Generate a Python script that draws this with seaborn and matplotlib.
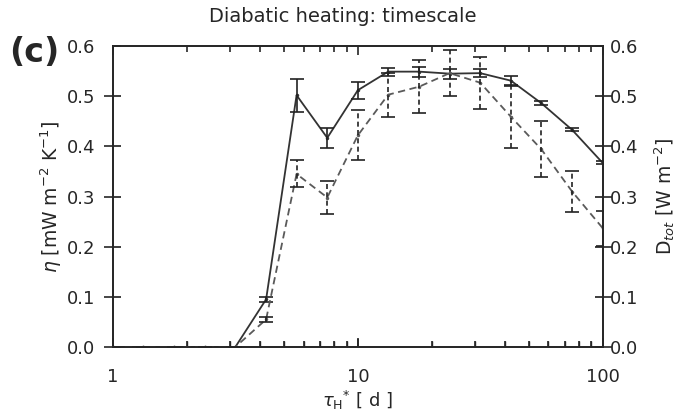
import pandas as pd
import seaborn as sns
import matplotlib.pyplot as plt
from matplotlib.ticker import FuncFormatter

# heating timescale tau_H* [d]
tau = [1.0, 1.33, 1.78, 2.37, 3.16, 4.22, 5.62, 7.5, 10.0, 13.3, 17.8, 23.7,
       31.6, 42.2, 56.2, 75.0, 100.0]
# efficiency eta [mW m-2 K-1] (solid, left axis)
eta = [0.0, 0.0, 0.0, 0.0, 0.0, 0.095, 0.502, 0.417, 0.512, 0.549, 0.549,
       0.545, 0.546, 0.531, 0.486, 0.433, 0.367]
eta_err = [0.0, 0.0, 0.0, 0.0, 0.0, 0.005, 0.033, 0.02, 0.017, 0.008, 0.01,
           0.01, 0.008, 0.01, 0.004, 0.003, 0.003]
# total dissipation D_tot [W m-2] (dashed, right axis)
dtot = [0.0, 0.0, 0.0, 0.0, 0.0, 0.055, 0.345, 0.298, 0.422, 0.503, 0.519,
        0.546, 0.527, 0.459, 0.394, 0.31, 0.237]
dtot_err = [0.0, 0.0, 0.0, 0.0, 0.0, 0.005, 0.027, 0.033, 0.05, 0.044, 0.053,
            0.046, 0.052, 0.063, 0.056, 0.04, 0.035]

sns.set_theme(style="ticks", rc={
    'xtick.direction': 'in', 'ytick.direction': 'in',
    'xtick.labelsize': 13, 'ytick.labelsize': 13,
    'xtick.major.pad': 15, 'xtick.minor.pad': 15,
    'ytick.major.pad': 13, 'ytick.minor.pad': 13,
})
plt.rcParams['font.family'] = ['DejaVu Sans']
plt.rcParams['mathtext.fontset'] = 'dejavusans'

df = pd.DataFrame({'tau': tau, 'eta': eta, 'eta_err': eta_err,
                   'dtot': dtot, 'dtot_err': dtot_err})

fig = plt.figure(figsize=(6.78, 4.15), dpi=100)
ax = fig.add_axes([0.1667, 0.1639, 0.7222, 0.7251])
ax.set_xscale('log')
ax.set_xlim(1, 100)
ax.set_ylim(0, 0.6)
ax.yaxis.get_major_ticks(10)
ax.xaxis.set_major_formatter(FuncFormatter(lambda v, p: f'{v:g}'))

sns.lineplot(data=df, x='tau', y='eta', ax=ax, color='#333333', lw=1.3,
             marker='o', markersize=2.5, markeredgewidth=0)
ax.errorbar(df['tau'], df['eta'], yerr=df['eta_err'], fmt='none',
            ecolor='#222222', elinewidth=1.2, capsize=5, capthick=1.2)

# right axis: tick labels sit closer to the spine
with plt.rc_context({'ytick.major.pad': 5, 'ytick.minor.pad': 5}):
    ax2 = ax.twinx()
    ax2.set_ylim(0, 0.6)
    ax2.yaxis.get_major_ticks(10)
    sns.lineplot(data=df, x='tau', y='dtot', ax=ax2, color='#5a5a5a', lw=1.3,
                 linestyle=(0, (4, 2.5)), marker='o', markersize=2.5,
                 markeredgewidth=0)
    eb = ax2.errorbar(df['tau'], df['dtot'], yerr=df['dtot_err'], fmt='none',
                      ecolor='#222222', elinewidth=1.2, capsize=5,
                      capthick=1.2)
    for c in eb[2]:
        c.set_linestyle((0, (3, 2)))
    ax2.set_ylim(0, 0.6)

ax.set_xlim(1, 100)
ax.set_ylim(0, 0.6)

# inward tick marks on all four sides, placed from the axis locators
tk = dict(linestyle='none', color='#262626', markeredgewidth=1.2,
          clip_on=False, zorder=5)
xmaj = [v for v in ax.xaxis.get_majorticklocs() if 1 <= v <= 100]
xmin = [v for v in ax.xaxis.get_minorticklocs() if 1 < v < 100]
ymaj = [v for v in ax.yaxis.get_majorticklocs() if 0 <= v <= 0.6]
xt = ax.get_xaxis_transform()
yt = ax.get_yaxis_transform()
for locs, size in ((xmaj, 6.5), (xmin, 4)):
    ax.plot(locs, [0] * len(locs), transform=xt, marker=2, markersize=size, **tk)
    ax.plot(locs, [1] * len(locs), transform=xt, marker=3, markersize=size, **tk)
ax.plot([0] * len(ymaj), ymaj, transform=yt, marker=0, markersize=6.5, **tk)
ax.plot([1] * len(ymaj), ymaj, transform=yt, marker=1, markersize=6.5, **tk)

ax.set_xlabel(r'$\tau_{\mathrm{H}}$$^{*}$ [ d ]', fontsize=13, labelpad=2)
ax.set_ylabel(r'$\eta$ [mW m$^{-2}$ K$^{-1}$]', fontsize=13.5, labelpad=2)
ax2.set_ylabel(r'D$_{tot}$ [W m$^{-2}$]', fontsize=13.5, labelpad=10)
ax.set_title('Diabatic heating: timescale', fontsize=14, pad=17, x=0.47)
fig.text(0.013, 0.85, '(c)', fontsize=24, fontweight='bold')

fig.savefig('out.png', dpi=100)
